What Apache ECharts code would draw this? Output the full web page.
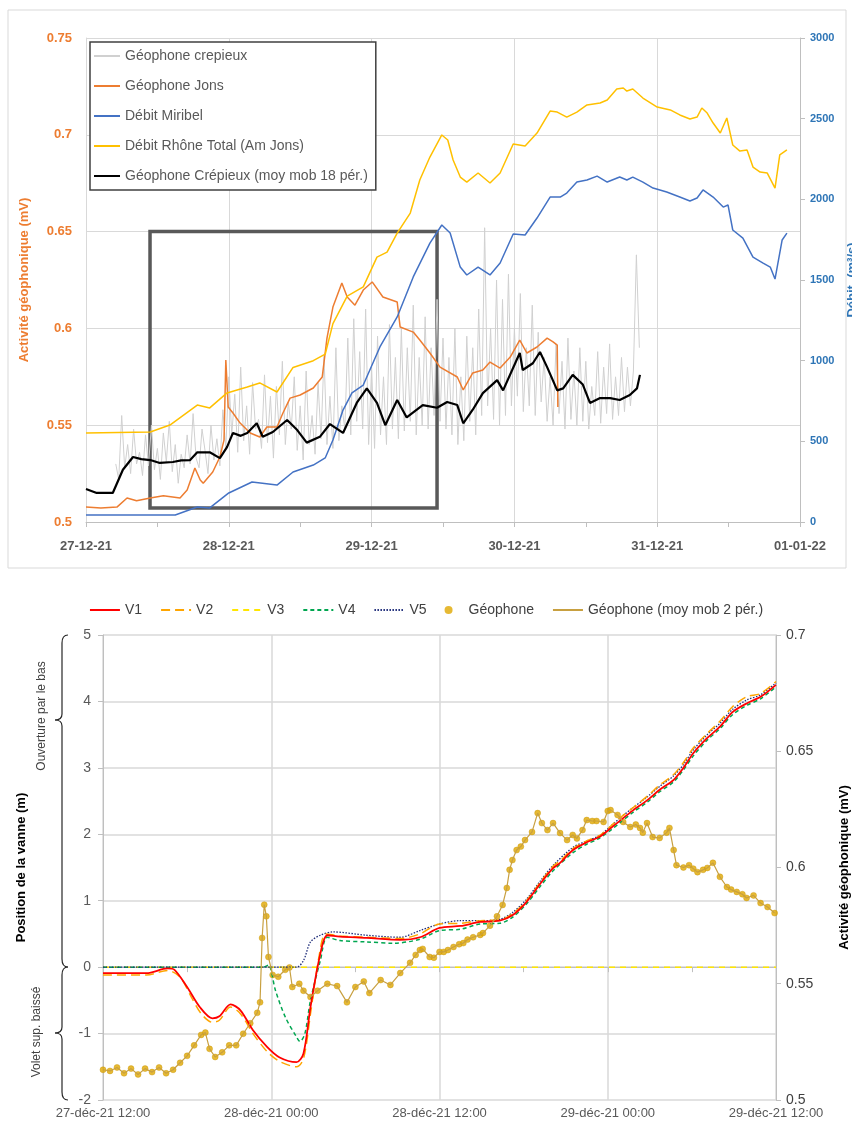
<!DOCTYPE html>
<html>
<head>
<meta charset="utf-8">
<script src="https://cdn.jsdelivr.net/npm/echarts@6/dist/echarts.min.js"></script>
<style>
  html, body { margin: 0; padding: 0; background: #fff; }
  #main { width: 852px; height: 1128px; }
</style>
</head>
<body>
<div id="main"></div>
<script>
// ---- données : graphique du haut (heures depuis le 27-12-21 00:00) ----
var topDays = ['27-12-21', '28-12-21', '29-12-21', '30-12-21', '31-12-21', '01-01-22'];

// Géophone crepieux (brut), un point toutes les 30 min à partir de 5 h
var crepieuxStart = 5, crepieuxStep = 0.5;
var crepieuxVals = [
  0.530, 0.522, 0.555, 0.528, 0.540, 0.525, 0.548, 0.530, 0.536, 0.524, 0.545, 0.529,
  0.550, 0.527, 0.538, 0.522, 0.546, 0.531, 0.552, 0.526, 0.540, 0.520, 0.535, 0.528,
  0.545, 0.530, 0.556, 0.533, 0.528, 0.548, 0.537, 0.525, 0.550, 0.532, 0.543, 0.529,
  0.558, 0.538, 0.575, 0.545, 0.566, 0.536, 0.580, 0.542, 0.560, 0.535, 0.572, 0.548,
  0.553, 0.538, 0.576, 0.541, 0.565, 0.533, 0.570, 0.545, 0.583, 0.540, 0.562, 0.548,
  0.575, 0.537, 0.560, 0.532, 0.578, 0.540, 0.555, 0.535, 0.572, 0.543, 0.586, 0.540,
  0.565, 0.538, 0.590, 0.542, 0.560, 0.548, 0.595, 0.545, 0.605, 0.552, 0.588, 0.548,
  0.610, 0.540, 0.580, 0.538, 0.596, 0.545, 0.575, 0.540, 0.602, 0.548, 0.585, 0.543,
  0.600, 0.547, 0.590, 0.552, 0.612, 0.545, 0.585, 0.550, 0.606, 0.548, 0.590, 0.555,
  0.615, 0.552, 0.595, 0.548, 0.585, 0.545, 0.600, 0.540, 0.575, 0.542, 0.596, 0.552,
  0.590, 0.545, 0.610, 0.555, 0.652, 0.560, 0.600, 0.553, 0.625, 0.550, 0.615, 0.555,
  0.628, 0.560, 0.600, 0.565, 0.618, 0.557, 0.590, 0.560, 0.612, 0.555, 0.598, 0.562,
  0.585, 0.552, 0.575, 0.550, 0.592, 0.556, 0.583, 0.548, 0.595, 0.553, 0.578, 0.550,
  0.590, 0.552, 0.583, 0.548, 0.570, 0.555, 0.588, 0.551, 0.580, 0.556, 0.592, 0.553,
  0.575, 0.555, 0.585, 0.557, 0.580, 0.560, 0.578, 0.638, 0.590
];

var geoJons = [
  [0, 0.5077], [2.5, 0.5072], [5.2, 0.5077], [6.9, 0.5124], [8.5, 0.511], [10.8, 0.5124], [13, 0.5135],
  [15.8, 0.5124], [17, 0.5165], [18.3, 0.5279], [19.2, 0.5217], [19.7, 0.520], [21.3, 0.5258],
  [22.5, 0.5336], [23.2, 0.5424], [23.5, 0.5837], [23.9, 0.5594], [24.7, 0.5563], [25.9, 0.5511],
  [27.6, 0.546], [29.2, 0.5439], [30.4, 0.5491], [32.1, 0.5491], [33.1, 0.5563], [34.3, 0.564],
  [36, 0.5656], [38.2, 0.5692], [39.7, 0.5749], [40.5, 0.595], [41.5, 0.611], [43, 0.6235],
  [43.9, 0.6162], [45.2, 0.612], [46.6, 0.6198], [48.1, 0.624], [49.9, 0.6162], [52.3, 0.6136],
  [52.8, 0.6007], [55, 0.5981], [56.1, 0.594], [57.8, 0.5873], [59.5, 0.580], [62.4, 0.5749],
  [63.4, 0.5682], [65, 0.577], [66.7, 0.5785], [67.9, 0.5826], [69.6, 0.5795], [71.3, 0.5852],
  [72.9, 0.594], [74.1, 0.5873], [75.8, 0.5904], [77.5, 0.595], [78.5, 0.593], [79.2, 0.5914],
  [79.3, 0.5594]
];

var debitMiribel = [
  [0, 43], [15, 43], [18.7, 93], [20.8, 87], [24, 180], [27.9, 248], [32.1, 229], [34.8, 310],
  [38.2, 353], [40.2, 397], [41.5, 508], [43.2, 694], [44.7, 800], [46.6, 849], [49.4, 1085],
  [52.3, 1271], [55, 1519], [57.8, 1729], [59.8, 1841], [61.2, 1791], [62.9, 1580], [64, 1531],
  [65.9, 1580], [67.9, 1531], [69.6, 1605], [71.8, 1785], [73.8, 1779], [75.8, 1884], [78, 2014],
  [79.7, 2014], [80.8, 2039], [82.5, 2107], [84.2, 2120], [85.9, 2144], [87.6, 2107], [89.7, 2138],
  [90.9, 2120], [91.9, 2138], [93.6, 2107], [95.3, 2070], [97.6, 2045], [99.8, 2014], [101.5, 1990],
  [102.7, 2008], [103.7, 2058], [105.4, 2014], [107.1, 1952], [107.9, 1965], [108.7, 1810],
  [110.4, 1760], [112.1, 1642], [113.8, 1605], [115, 1580], [115.8, 1506], [117, 1748], [117.8, 1791]
];

var debitRhone = [
  [0, 552], [10.8, 558], [14.1, 601], [18.7, 725], [20.8, 707], [23.7, 800], [27.1, 837], [29.2, 862],
  [32.1, 806], [34.8, 958], [38.2, 1000], [40.2, 1040], [41.5, 1230], [43.9, 1400], [46.6, 1457],
  [48.9, 1642], [50.6, 1673], [52.3, 1791], [54.5, 1915], [56.1, 2120], [57.8, 2262], [59.8, 2399],
  [60.8, 2368], [61.7, 2244], [62.9, 2138], [64, 2107], [65.9, 2163], [67.9, 2101], [69.6, 2163],
  [71.8, 2343], [73.8, 2330], [75.8, 2411], [78, 2547], [79.2, 2541], [80.8, 2510], [82.5, 2541],
  [84.2, 2585], [86.4, 2597], [87.6, 2616], [89.2, 2684], [90.3, 2690], [90.9, 2671], [91.9, 2684],
  [93.6, 2628], [96, 2572], [98.2, 2554], [99.8, 2523], [101.5, 2498], [102.7, 2510], [103.5, 2566],
  [104.4, 2535], [105.4, 2473], [106.6, 2411], [107.7, 2504], [108.7, 2337], [109.9, 2299],
  [111.1, 2306], [112.1, 2200], [113.3, 2169], [114.5, 2163], [115.8, 2070], [116.6, 2275], [117.8, 2306]
];

var crepieuxMoyMob = [
  [0, 0.517], [1.8, 0.515], [4.5, 0.515], [6.2, 0.527], [7.9, 0.5336], [9.3, 0.5325], [10.8, 0.532],
  [12.4, 0.5305], [14.6, 0.531], [16, 0.5318], [17.5, 0.532], [18.7, 0.536], [20.8, 0.536], [22.5, 0.533],
  [23.7, 0.5387], [24.7, 0.546], [26, 0.5445], [27.1, 0.546], [28.7, 0.551], [29.7, 0.544], [31.4, 0.5465],
  [33.8, 0.5527], [35.5, 0.5475], [37.1, 0.541], [39.3, 0.544], [41, 0.5506], [43.2, 0.546],
  [45.5, 0.5615], [47.2, 0.569], [48.9, 0.5615], [50.3, 0.55], [52.3, 0.563], [53.9, 0.554],
  [55.6, 0.558], [56.6, 0.5604], [59, 0.559], [60.7, 0.562], [62.4, 0.5604], [63.4, 0.551],
  [65, 0.558], [66.7, 0.5666], [69.1, 0.5733], [70.1, 0.568], [72.9, 0.5873], [73.4, 0.5785],
  [75.1, 0.582], [76.3, 0.5878], [77.5, 0.580], [79.2, 0.568], [80.2, 0.569], [81.8, 0.576],
  [83.5, 0.571], [84.7, 0.5615], [86.4, 0.564], [88.1, 0.564], [89.7, 0.563], [91.4, 0.5656],
  [92.6, 0.569], [93.1, 0.576]
];

// encadré gris (zone zoomée dans le graphique du bas)
var zoomBox = { x0: 10.76, x1: 59.0, y0: 0.5072, y1: 0.65 };

// ---- données : graphique du bas (heures depuis le 27-déc-21 12:00) ----
var botLabels = ['27-déc-21 12:00', '28-déc-21 00:00', '28-déc-21 12:00', '29-déc-21 00:00', '29-déc-21 12:00'];

var v1 = [
  [0, -0.09], [3.1, -0.09], [4.6, -0.02], [5.1, -0.04], [6, -0.3], [6.9, -0.6], [7.8, -0.77], [8.3, -0.74],
  [9.1, -0.56], [9.8, -0.65], [10.7, -0.95], [11.7, -1.2], [12.6, -1.36], [13.8, -1.43], [14.3, -1.3],
  [14.8, -0.6], [15.5, 0.2], [16, 0.48], [16.9, 0.46], [18.8, 0.44], [21.2, 0.41], [22.6, 0.45],
  [24, 0.59], [25.5, 0.62], [26.9, 0.68], [28.3, 0.7], [29.2, 0.78], [30.2, 0.98], [31.2, 1.26],
  [32.1, 1.49], [32.6, 1.57], [33.5, 1.76], [34.5, 1.88], [35.4, 1.96], [36.2, 2.09], [36.9, 2.21],
  [37.8, 2.36], [38.8, 2.51], [39.7, 2.67], [40.7, 2.82], [41.4, 3.0], [42.1, 3.22], [43.1, 3.45],
  [44, 3.62], [44.9, 3.84], [45.9, 3.97], [46.9, 4.07], [48, 4.25]
];
var v2 = [
  [0, -0.12], [3.1, -0.12], [4.6, -0.05], [5.5, -0.15], [6.3, -0.45], [7, -0.7], [7.8, -0.83], [8.3, -0.8],
  [9.1, -0.6], [9.8, -0.7], [10.7, -1.0], [11.7, -1.27], [12.6, -1.42], [13.8, -1.5], [14.3, -1.38],
  [14.8, -0.7], [15.4, 0.15], [15.9, 0.5], [16.9, 0.47], [18.8, 0.45], [21.2, 0.43], [22.6, 0.5],
  [24, 0.65], [25.5, 0.66], [26.9, 0.7], [28.3, 0.71], [29.2, 0.8], [30.2, 1.0], [31.2, 1.28],
  [32.1, 1.52], [32.6, 1.6], [33.5, 1.78], [34.5, 1.9], [35.4, 1.98], [36.2, 2.12], [36.9, 2.25],
  [37.8, 2.4], [38.8, 2.57], [39.7, 2.74], [40.7, 2.9], [41.4, 3.08], [42.1, 3.3], [43.1, 3.52],
  [44, 3.7], [44.9, 3.92], [45.9, 4.07], [46.9, 4.12], [48, 4.3]
];
var v3 = [[0, 0], [48, 0]];
var v4 = [
  [0, 0], [11.4, 0], [11.8, 0.03], [12.3, -0.35], [13, -0.75], [13.8, -1.05], [14.05, -1.12], [14.4, -1.0],
  [14.8, -0.5], [15.5, 0.1], [16, 0.45], [16.9, 0.4], [18.8, 0.38], [20.7, 0.36], [22.6, 0.42],
  [24, 0.55], [25.5, 0.57], [26.9, 0.65], [28.3, 0.66], [29.2, 0.75], [30.2, 0.95], [31.2, 1.22],
  [32.1, 1.45], [33.5, 1.72], [34.5, 1.85], [35.4, 1.94], [36.2, 2.06], [36.9, 2.18], [37.8, 2.33],
  [38.8, 2.48], [39.7, 2.64], [40.7, 2.79], [41.4, 2.97], [42.1, 3.18], [43.1, 3.42], [44, 3.59],
  [44.9, 3.8], [45.9, 3.94], [46.9, 4.04], [48, 4.22]
];
var v5 = [
  [0, 0], [13.8, 0], [14.3, 0.1], [14.8, 0.38], [15.5, 0.48], [16.4, 0.53], [18.8, 0.48], [21.2, 0.45],
  [22.6, 0.55], [24, 0.65], [25.5, 0.7], [26.9, 0.7], [28.3, 0.72], [29.2, 0.82], [30.2, 1.02],
  [31.2, 1.3], [32.1, 1.53], [33.5, 1.8], [34.5, 1.9], [35.4, 1.98], [36.2, 2.12], [36.9, 2.25],
  [37.8, 2.4], [38.8, 2.56], [39.7, 2.72], [40.7, 2.88], [41.4, 3.05], [42.1, 3.27], [43.1, 3.5],
  [44, 3.67], [44.9, 3.88], [45.9, 4.02], [46.9, 4.1], [48, 4.28]
];
var geophone = [
  [0, 0.513], [0.5, 0.5125], [1, 0.514], [1.5, 0.5115], [2, 0.5135], [2.5, 0.511], [3, 0.5135], [3.5, 0.512],
  [4, 0.514], [4.5, 0.5115], [5, 0.513], [5.5, 0.516], [6, 0.519], [6.5, 0.5235], [7, 0.528], [7.3, 0.529],
  [7.6, 0.522], [8, 0.5185], [8.5, 0.5205], [9, 0.5235], [9.5, 0.5235], [10, 0.5285], [10.5, 0.533],
  [11, 0.5375], [11.2, 0.542], [11.35, 0.5697], [11.5, 0.584], [11.65, 0.579], [11.8, 0.5615],
  [12.1, 0.5538], [12.5, 0.553], [13, 0.556], [13.3, 0.557], [13.5, 0.5486], [14, 0.550], [14.3, 0.547],
  [14.8, 0.5443], [15.3, 0.547], [16, 0.550], [16.7, 0.549], [17.4, 0.542], [18, 0.5486], [18.6, 0.551],
  [19, 0.546], [19.8, 0.5516], [20.5, 0.5495], [21.2, 0.5546], [21.9, 0.559], [22.3, 0.5624],
  [22.6, 0.5645], [22.8, 0.565], [23.3, 0.5615], [23.6, 0.5612], [24, 0.5637], [24.3, 0.5637],
  [24.6, 0.5645], [25, 0.5658], [25.4, 0.567], [25.7, 0.5675], [26, 0.569], [26.4, 0.570], [26.9, 0.571],
  [27.1, 0.5718], [27.6, 0.575], [28.1, 0.579], [28.5, 0.5839], [28.8, 0.5912], [29, 0.599],
  [29.2, 0.6032], [29.5, 0.6075], [29.8, 0.609], [30.1, 0.6118], [30.6, 0.6153], [31, 0.6234],
  [31.3, 0.6191], [31.7, 0.6161], [32.1, 0.6191], [32.6, 0.6148], [33.1, 0.6118], [33.5, 0.614],
  [33.8, 0.6125], [34.2, 0.6161], [34.5, 0.6204], [34.9, 0.620], [35.2, 0.620], [35.7, 0.6196],
  [36, 0.6243], [36.2, 0.6247], [36.7, 0.6226], [37.1, 0.6196], [37.6, 0.6174], [38, 0.6185],
  [38.3, 0.617], [38.5, 0.615], [38.8, 0.6191], [39.2, 0.6131], [39.7, 0.6127], [40.2, 0.615],
  [40.4, 0.617], [40.7, 0.6075], [40.9, 0.601], [41.4, 0.600], [41.8, 0.601], [42.1, 0.5995],
  [42.4, 0.598], [42.8, 0.599], [43.1, 0.5998], [43.5, 0.602], [44, 0.596], [44.5, 0.5916],
  [44.8, 0.5905], [45.2, 0.5895], [45.6, 0.5885], [45.9, 0.5869], [46.4, 0.588], [46.9, 0.5847],
  [47.4, 0.583], [47.9, 0.5804]
];

var crepieux = crepieuxVals.map(function (v, i) { return [crepieuxStart + i * crepieuxStep, v]; });

var myChart = echarts.init(document.getElementById('main'));

// accolade verticale (annotation à gauche du graphique du bas)
function brace(y1, ym, y2) {
  var st = { stroke: '#262626', lineWidth: 1.2, fill: 'none' };
  return [
    { type: 'bezierCurve', shape: { x1: 68, y1: y1, cpx1: 62, cpy1: y1, x2: 62, y2: y1 + 8 }, style: st },
    { type: 'line', shape: { x1: 62, y1: y1 + 8, x2: 62, y2: ym - 6 }, style: st },
    { type: 'bezierCurve', shape: { x1: 62, y1: ym - 6, cpx1: 62, cpy1: ym, x2: 55, y2: ym }, style: st },
    { type: 'bezierCurve', shape: { x1: 55, y1: ym, cpx1: 62, cpy1: ym, x2: 62, y2: ym + 6 }, style: st },
    { type: 'line', shape: { x1: 62, y1: ym + 6, x2: 62, y2: y2 - 8 }, style: st },
    { type: 'bezierCurve', shape: { x1: 62, y1: y2 - 8, cpx1: 62, cpy1: y2, x2: 68, y2: y2 }, style: st }
  ];
}

var gridLine = '#D9D9D9';
var axisGray = '#BFBFBF';
var noSymbol = { color: 'rgba(0,0,0,0)', borderColor: 'rgba(0,0,0,0)', borderWidth: 0 };

var graphics = [
  { type: 'rect', shape: { x: 8, y: 10, width: 838, height: 558 },
    style: { fill: 'none', stroke: '#D9D9D9', lineWidth: 1 }, z: 0 },
  { type: 'text', x: 42, y: 716, rotation: Math.PI / 2,
    style: { text: 'Ouverture par le bas', fontSize: 12, fill: '#404040', align: 'center', verticalAlign: 'middle' } },
  { type: 'text', x: 37, y: 1032, rotation: Math.PI / 2,
    style: { text: 'Volet sup. baissé', fontSize: 12, fill: '#404040', align: 'center', verticalAlign: 'middle' } }
].concat(brace(635, 720, 967), brace(967, 1033, 1100));

option = {
  animation: false,
  textStyle: { fontFamily: 'Liberation Sans, Arial, sans-serif' },
  graphic: graphics,
  legend: [{
    data: ['Géophone crepieux', 'Géophone Jons', 'Débit Miribel', 'Débit Rhône Total (Am Jons)', 'Géophone Crépieux (moy mob 18 pér.)'],
    orient: 'vertical',
    left: 90,
    top: 42,
    padding: [7, 8, 7, 3],
    itemGap: 16,
    itemWidth: 26,
    itemHeight: 14,
    itemStyle: noSymbol,
    backgroundColor: '#fff',
    borderColor: '#404040',
    borderWidth: 1.5,
    textStyle: { color: '#595959', fontSize: 14 }
  }, {
    data: ['V1', 'V2', 'V3', 'V4', 'V5',
      { name: 'Géophone', icon: 'circle', itemStyle: { color: '#E0A800', borderWidth: 0 } },
      'Géophone (moy mob 2 pér.)'],
    left: 'center',
    top: 598,
    itemGap: 18,
    itemWidth: 30,
    itemHeight: 8,
    itemStyle: noSymbol,
    textStyle: { color: '#404040', fontSize: 14 }
  }],
  grid: [
    { left: 86, top: 38, width: 714, height: 484, outerBoundsMode: 'none', containLabel: false },
    { left: 103, top: 635, width: 673, height: 465, outerBoundsMode: 'none', containLabel: false }
  ],
  xAxis: [{
    gridIndex: 0, type: 'value', min: 0, max: 120, interval: 24,
    axisLine: { lineStyle: { color: axisGray } },
    axisTick: { show: true, length: 5, lineStyle: { color: axisGray } },
    minorTick: { show: true, splitNumber: 2, length: 5, lineStyle: { color: axisGray } },
    splitLine: { show: true, lineStyle: { color: gridLine } },
    axisLabel: { color: '#595959', fontSize: 13, fontWeight: 'bold', margin: 18,
      formatter: function (v) { return topDays[Math.round(v / 24)]; } }
  }, {
    gridIndex: 1, type: 'value', min: 0, max: 48, interval: 12,
    axisLine: { lineStyle: { color: axisGray } },
    axisTick: { show: true, length: 5, lineStyle: { color: axisGray } },
    minorTick: { show: true, splitNumber: 2, length: 5, lineStyle: { color: axisGray } },
    splitLine: { show: true, lineStyle: { color: gridLine, width: 1.5 } },
    axisLabel: { color: '#595959', fontSize: 13, margin: 7,
      formatter: function (v) { return botLabels[Math.round(v / 12)]; } }
  }],
  yAxis: [{
    gridIndex: 0, type: 'value', min: 0.5, max: 0.75, interval: 0.05,
    name: 'Activité géophonique (mV)', nameLocation: 'middle', nameGap: 55,
    nameTextStyle: { color: '#ED7D31', fontSize: 13, fontWeight: 'bold' },
    axisLine: { show: true, lineStyle: { color: gridLine } },
    axisTick: { show: false },
    splitLine: { lineStyle: { color: gridLine } },
    axisLabel: { color: '#ED7D31', fontSize: 13, fontWeight: 'bold', margin: 14 }
  }, {
    gridIndex: 0, type: 'value', min: 0, max: 3000, interval: 500, position: 'right',
    name: 'Débit  (m³/s)', nameLocation: 'middle', nameGap: 46,
    nameTextStyle: { color: '#2E75B6', fontSize: 13, fontWeight: 'bold' },
    axisLine: { show: true, lineStyle: { color: axisGray } },
    axisTick: { show: true, length: 5, lineStyle: { color: axisGray } },
    splitLine: { show: false },
    axisLabel: { color: '#2E75B6', fontSize: 11, fontWeight: 'bold', margin: 10,
      formatter: function (v) { return String(v); } }
  }, {
    gridIndex: 1, type: 'value', min: -2, max: 5, interval: 1,
    name: 'Position de la vanne (m)', nameLocation: 'middle', nameGap: 75,
    nameTextStyle: { color: '#000', fontSize: 13, fontWeight: 'bold' },
    axisLine: { show: true, lineStyle: { color: axisGray } },
    axisTick: { show: true, length: 5, lineStyle: { color: axisGray } },
    splitLine: { lineStyle: { color: gridLine, width: 1.5 } },
    axisLabel: { color: '#595959', fontSize: 14, margin: 12 }
  }, {
    gridIndex: 1, type: 'value', min: 0.5, max: 0.7, interval: 0.05, position: 'right',
    name: 'Activité géophonique (mV)', nameLocation: 'middle', nameGap: 62,
    nameTextStyle: { color: '#000', fontSize: 13, fontWeight: 'bold' },
    axisLine: { show: true, lineStyle: { color: axisGray } },
    axisTick: { show: true, length: 5, lineStyle: { color: axisGray } },
    splitLine: { show: false },
    axisLabel: { color: '#404040', fontSize: 14, margin: 10 }
  }],
  series: [
    // ---- haut ----
    { name: 'Géophone crepieux', type: 'line', xAxisIndex: 0, yAxisIndex: 0, symbol: 'none',
      lineStyle: { color: '#D0D0D0', width: 1 }, itemStyle: { color: '#D0D0D0' }, data: crepieux },
    { name: 'Géophone Jons', type: 'line', xAxisIndex: 0, yAxisIndex: 0, symbol: 'none',
      lineStyle: { color: '#ED7D31', width: 1.5 }, itemStyle: { color: '#ED7D31' }, data: geoJons,
      markArea: {
        silent: true,
        itemStyle: { color: 'rgba(0,0,0,0)', borderColor: '#595959', borderWidth: 3.5 },
        label: { show: false },
        data: [[{ xAxis: zoomBox.x0, yAxis: zoomBox.y1 }, { xAxis: zoomBox.x1, yAxis: zoomBox.y0 }]]
      } },
    { name: 'Débit Miribel', type: 'line', xAxisIndex: 0, yAxisIndex: 1, symbol: 'none',
      lineStyle: { color: '#4472C4', width: 1.5 }, itemStyle: { color: '#4472C4' }, data: debitMiribel },
    { name: 'Débit Rhône Total (Am Jons)', type: 'line', xAxisIndex: 0, yAxisIndex: 1, symbol: 'none',
      lineStyle: { color: '#FFC000', width: 1.5 }, itemStyle: { color: '#FFC000' }, data: debitRhone },
    { name: 'Géophone Crépieux (moy mob 18 pér.)', type: 'line', xAxisIndex: 0, yAxisIndex: 0, symbol: 'none',
      lineStyle: { color: '#000', width: 2.2 }, itemStyle: { color: '#000' }, data: crepieuxMoyMob },
    // ---- bas ----
    { name: 'V3', type: 'line', xAxisIndex: 1, yAxisIndex: 2, symbol: 'none',
      lineStyle: { color: '#FFE600', width: 1.5, type: [6, 5] }, itemStyle: { color: '#FFE600' }, data: v3 },
    { name: 'V4', type: 'line', xAxisIndex: 1, yAxisIndex: 2, symbol: 'none', smooth: 0.3,
      lineStyle: { color: '#00A650', width: 1.5, type: [4, 3] }, itemStyle: { color: '#00A650' }, data: v4 },
    { name: 'V5', type: 'line', xAxisIndex: 1, yAxisIndex: 2, symbol: 'none', smooth: 0.3,
      lineStyle: { color: '#1F2D7A', width: 1.3, type: [1.5, 1.5] }, itemStyle: { color: '#1F2D7A' }, data: v5 },
    { name: 'V2', type: 'line', xAxisIndex: 1, yAxisIndex: 2, symbol: 'none', smooth: 0.3,
      lineStyle: { color: '#FFA500', width: 1.5, type: [9, 5] }, itemStyle: { color: '#FFA500' }, data: v2 },
    { name: 'V1', type: 'line', xAxisIndex: 1, yAxisIndex: 2, symbol: 'none', smooth: 0.3,
      lineStyle: { color: '#FF0000', width: 1.8 }, itemStyle: { color: '#FF0000' }, data: v1 },
    { name: 'Géophone (moy mob 2 pér.)', type: 'line', xAxisIndex: 1, yAxisIndex: 3, symbol: 'none',
      lineStyle: { color: '#C8A040', width: 1.2 }, itemStyle: { color: '#D9B36B' }, data: geophone },
    { name: 'Géophone', type: 'scatter', xAxisIndex: 1, yAxisIndex: 3, symbol: 'circle', symbolSize: 6,
      itemStyle: { color: '#E0A800', borderColor: '#C79400', borderWidth: 0.5 }, data: geophone }
  ]
};

myChart.setOption(option);
</script>
</body>
</html>
